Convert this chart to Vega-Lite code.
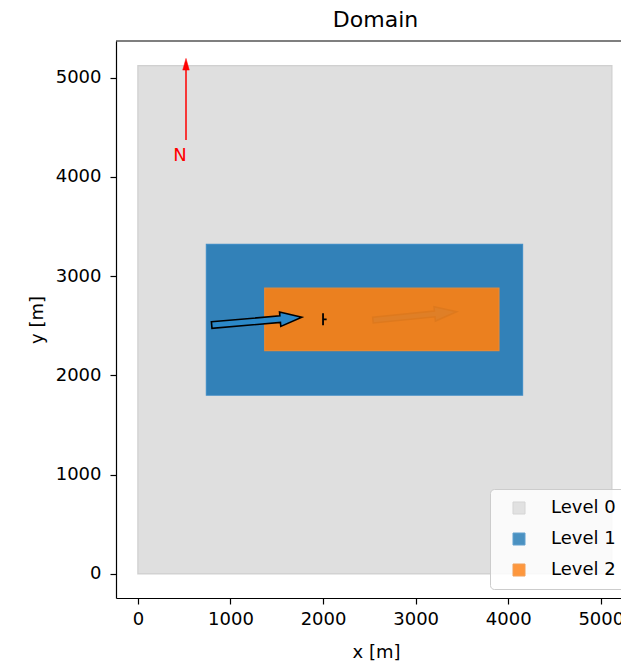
{
  "$schema": "https://vega.github.io/schema/vega-lite/v6.json",
  "autosize": {"type": "none"},
  "padding": {"left": 116, "top": 41, "right": 0, "bottom": 67},
  "width": 505,
  "height": 557,
  "title": {"text": "Domain", "fontSize": 22, "fontWeight": "normal", "font": "DejaVu Sans", "color": "black", "dx": 7, "offset": 8},
  "config": {
    "font": "DejaVu Sans",
    "view": {"stroke": null},
    "axis": {"domainColor": "black", "tickColor": "black", "labelColor": "black", "titleColor": "black", "labelFontSize": 18, "titleFontSize": 18, "titleFontWeight": "normal", "labelFont": "DejaVu Sans", "titleFont": "DejaVu Sans", "grid": false, "tickSize": 6, "domainWidth": 1.2, "tickWidth": 1.2, "format": "d"},
    "legend": {"orient": "none", "legendX": 374, "legendY": 448, "labelFontSize": 18, "labelFont": "DejaVu Sans", "labelColor": "black", "symbolType": "square", "symbolSize": 144, "fillColor": "rgba(255,255,255,0.85)", "strokeColor": "#cccccc", "cornerRadius": 4, "padding": 10, "rowPadding": 13, "symbolOffset": 10, "labelOffset": 23, "symbolStrokeWidth": 1, "symbolOpacity": 0.8}
  },
  "datasets": {
    "levels": [
      {"level": "Level 0", "x0": 0, "x1": 5120, "y0": 0, "y1": 5120},
      {"level": "Level 1", "x0": 740, "x1": 4155, "y0": 1800, "y1": 3320},
      {"level": "Level 2", "x0": 1370, "x1": 3900, "y0": 2250, "y1": 2878}
    ],
    "arrow": [{"x": 1284, "y": 2546}],
    "faint": [{"x": 2991, "y": 2599}],
    "turbine": [{"x": 2000, "y": 2565}],
    "north": [{"x": 520, "y0": 4370, "y1": 5080, "yh": 5134, "xt": 456, "yt": 4210, "label": "N"}],
    "frame": [{"ytop": 5368}]
  },
  "layer": [
    {
      "data": {"name": "levels"},
      "mark": {"type": "rect", "fillOpacity": 0.9, "strokeOpacity": 0.9, "strokeWidth": 1.2},
      "encoding": {
        "x": {"field": "x0", "type": "quantitative", "scale": {"domain": [-236, 5218], "nice": false, "zero": false}, "axis": {"values": [0, 1000, 2000, 3000, 4000, 5000], "title": "x [m]", "labelPadding": 6, "titlePadding": 15, "titleX": 260}},
        "x2": {"field": "x1"},
        "y": {"field": "y0", "type": "quantitative", "scale": {"domain": [-242, 5368], "nice": false, "zero": false}, "axis": {"values": [0, 1000, 2000, 3000, 4000, 5000], "title": "y [m]", "labelPadding": 9, "titlePadding": 9}},
        "y2": {"field": "y1"},
        "color": {"field": "level", "type": "nominal", "scale": {"domain": ["Level 0", "Level 1", "Level 2"], "range": ["#dcdcdc", "#1f77b4", "#ff7f0e"]}, "legend": {"title": null}},
        "fill": {"field": "level", "type": "nominal", "scale": {"domain": ["Level 0", "Level 1", "Level 2"], "range": ["#dcdcdc", "#1f77b4", "#ff7f0e"]}, "legend": {"title": null}},
        "stroke": {"field": "level", "type": "nominal", "scale": {"domain": ["Level 0", "Level 1", "Level 2"], "range": ["#cccccc", "#3d8bc4", "#f08a30"]}, "legend": {"title": null}}
      }
    },
    {
      "data": {"name": "faint"},
      "mark": {"type": "point", "shape": "M -1 -0.07 L 0.476 -0.07 L 0.476 -0.17 L 1 0 L 0.476 0.17 L 0.476 0.07 L -1 0.07 Z", "size": 7073, "angle": -5.7, "filled": true, "fill": "#1f77b4", "stroke": "black", "strokeWidth": 1.5, "opacity": 0.05},
      "encoding": {
        "x": {"field": "x", "type": "quantitative", "scale": {"domain": [-236, 5218], "nice": false, "zero": false}},
        "y": {"field": "y", "type": "quantitative", "scale": {"domain": [-242, 5368], "nice": false, "zero": false}}
      }
    },
    {
      "data": {"name": "arrow"},
      "mark": {"type": "point", "shape": "M -1 -0.073 L 0.52 -0.073 L 0.52 -0.16 L 1 0 L 0.52 0.16 L 0.52 0.073 L -1 0.073 Z", "size": 8172, "angle": -4.9, "filled": true, "fill": "#2b88c8", "stroke": "black", "strokeWidth": 1.6, "opacity": 1},
      "encoding": {
        "x": {"field": "x", "type": "quantitative", "scale": {"domain": [-236, 5218], "nice": false, "zero": false}},
        "y": {"field": "y", "type": "quantitative", "scale": {"domain": [-242, 5368], "nice": false, "zero": false}}
      }
    },
    {
      "data": {"name": "turbine"},
      "mark": {"type": "point", "shape": "M 0 -1 L 0 1 M 0 0 L 0.6 0", "size": 144, "filled": false, "stroke": "black", "strokeWidth": 1.8, "opacity": 1},
      "encoding": {
        "x": {"field": "x", "type": "quantitative", "scale": {"domain": [-236, 5218], "nice": false, "zero": false}},
        "y": {"field": "y", "type": "quantitative", "scale": {"domain": [-242, 5368], "nice": false, "zero": false}}
      }
    },
    {
      "data": {"name": "north"},
      "mark": {"type": "rule", "color": "red", "strokeWidth": 1.5},
      "encoding": {
        "x": {"field": "x", "type": "quantitative", "scale": {"domain": [-236, 5218], "nice": false, "zero": false}},
        "y": {"field": "y0", "type": "quantitative", "scale": {"domain": [-242, 5368], "nice": false, "zero": false}},
        "y2": {"field": "y1"}
      }
    },
    {
      "data": {"name": "north"},
      "mark": {"type": "point", "shape": "M 0 -1 L 0.56 1 L -0.56 1 Z", "size": 137, "filled": true, "fill": "red", "stroke": "red", "strokeWidth": 0.5, "opacity": 1},
      "encoding": {
        "x": {"field": "x", "type": "quantitative", "scale": {"domain": [-236, 5218], "nice": false, "zero": false}},
        "y": {"field": "yh", "type": "quantitative", "scale": {"domain": [-242, 5368], "nice": false, "zero": false}}
      }
    },
    {
      "data": {"name": "north"},
      "mark": {"type": "text", "color": "red", "fontSize": 18, "font": "DejaVu Sans", "align": "center", "baseline": "middle"},
      "encoding": {
        "x": {"field": "xt", "type": "quantitative", "scale": {"domain": [-236, 5218], "nice": false, "zero": false}},
        "y": {"field": "yt", "type": "quantitative", "scale": {"domain": [-242, 5368], "nice": false, "zero": false}},
        "text": {"field": "label"}
      }
    },
    {
      "data": {"name": "frame"},
      "mark": {"type": "rule", "color": "black", "strokeWidth": 1.2},
      "encoding": {
        "y": {"field": "ytop", "type": "quantitative", "scale": {"domain": [-242, 5368], "nice": false, "zero": false}}
      }
    }
  ]
}
